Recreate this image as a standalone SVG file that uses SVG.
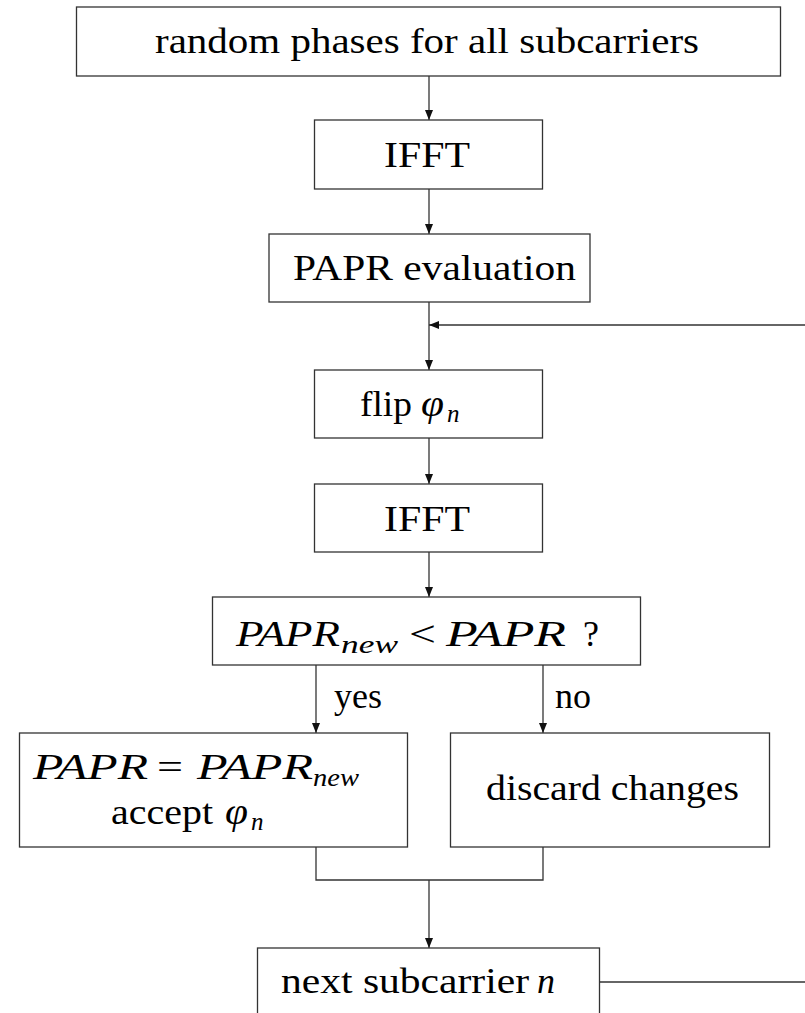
<svg xmlns="http://www.w3.org/2000/svg" width="805" height="1013" viewBox="0 0 805 1013">
  <defs>
    <marker id="arrow" markerUnits="userSpaceOnUse" markerWidth="10" markerHeight="8" refX="10" refY="4" orient="auto">
      <path d="M0,0 L10,4 L0,8 z" fill="#111"/>
    </marker>
    <style>
      .box { fill: #fff; stroke: #333; stroke-width: 1.3; }
      .wire { fill: none; stroke: #333; stroke-width: 1.3; }
      text { font-family: 'Liberation Serif', 'Times New Roman', 'DejaVu Serif', serif; fill: #000; }
      .rm { font-size: 36px; }
      .it { font-size: 36px; font-style: italic; }
      .phi { font-size: 37px; font-style: italic; }
      .sub { font-size: 25px; font-style: italic; }
    </style>
  </defs>
  <rect width="805" height="1013" fill="#fff"/>

  <!-- connectors -->
  <g id="connectors">
    <line class="wire" x1="429" y1="76" x2="429" y2="120" marker-end="url(#arrow)"/>
    <line class="wire" x1="429" y1="189" x2="429" y2="234" marker-end="url(#arrow)"/>
    <line class="wire" x1="429" y1="302" x2="429" y2="370" marker-end="url(#arrow)"/>
    <line class="wire" x1="805" y1="325" x2="429" y2="325" marker-end="url(#arrow)"/>
    <line class="wire" x1="429" y1="438" x2="429" y2="484" marker-end="url(#arrow)"/>
    <line class="wire" x1="429" y1="552" x2="429" y2="597" marker-end="url(#arrow)"/>
    <line class="wire" x1="316" y1="665" x2="316" y2="733" marker-end="url(#arrow)"/>
    <line class="wire" x1="543" y1="665" x2="543" y2="733" marker-end="url(#arrow)"/>
    <polyline class="wire" points="316,847 316,880 543,880 543,847"/>
    <line class="wire" x1="429" y1="880" x2="429" y2="948" marker-end="url(#arrow)"/>
    <line class="wire" x1="599" y1="982" x2="805" y2="982"/>
    <text class="rm" x="334" y="708">yes</text>
    <text class="rm" x="555" y="708">no</text>
  </g>

  <g id="init">
    <rect class="box" x="76.5" y="7" width="704" height="69"/>
    <text class="rm" x="155" y="53" textLength="544" lengthAdjust="spacingAndGlyphs">random phases for all subcarriers</text>
  </g>

  <g id="ifft1">
    <rect class="box" x="314.5" y="120" width="228" height="69"/>
    <text class="rm" x="384" y="167" textLength="86" lengthAdjust="spacingAndGlyphs">IFFT</text>
  </g>

  <g id="papr-eval">
    <rect class="box" x="269" y="234" width="321" height="68"/>
    <text class="rm" x="293" y="280" textLength="283" lengthAdjust="spacingAndGlyphs">PAPR evaluation</text>
  </g>

  <g id="flip">
    <rect class="box" x="314.5" y="370" width="228" height="68"/>
    <text class="rm" x="360" y="416" textLength="52" lengthAdjust="spacingAndGlyphs">flip</text>
    <text class="phi" x="421" y="416" textLength="23" lengthAdjust="spacingAndGlyphs">φ</text>
    <text class="sub" x="447" y="422">n</text>
  </g>

  <g id="ifft2">
    <rect class="box" x="314.5" y="484" width="228" height="68"/>
    <text class="rm" x="384" y="531" textLength="86" lengthAdjust="spacingAndGlyphs">IFFT</text>
  </g>

  <g id="compare">
    <rect class="box" x="212.5" y="597" width="428" height="68"/>
    <text class="it" x="236" y="646" textLength="104" lengthAdjust="spacingAndGlyphs">PAPR</text>
    <text class="sub" x="341" y="653" textLength="57" lengthAdjust="spacingAndGlyphs">new</text>
    <text class="rm" x="409" y="646" textLength="27" lengthAdjust="spacingAndGlyphs">&lt;</text>
    <text class="it" x="446" y="646" textLength="120" lengthAdjust="spacingAndGlyphs">PAPR</text>
    <text class="rm" x="583" y="646">?</text>
  </g>

  <g id="accept">
    <rect class="box" x="19.5" y="733" width="388" height="114"/>
    <text class="it" x="33" y="779" textLength="115" lengthAdjust="spacingAndGlyphs">PAPR</text>
    <text class="rm" x="157" y="779" textLength="26" lengthAdjust="spacingAndGlyphs">=</text>
    <text class="it" x="197" y="779" textLength="116" lengthAdjust="spacingAndGlyphs">PAPR</text>
    <text class="sub" x="313" y="786" textLength="46" lengthAdjust="spacingAndGlyphs">new</text>
    <text class="rm" x="111" y="824" textLength="102" lengthAdjust="spacingAndGlyphs">accept</text>
    <text class="phi" x="225" y="824" textLength="23" lengthAdjust="spacingAndGlyphs">φ</text>
    <text class="sub" x="251" y="830">n</text>
  </g>

  <g id="discard">
    <rect class="box" x="450.5" y="733" width="319" height="114"/>
    <text class="rm" x="486" y="800" textLength="253" lengthAdjust="spacingAndGlyphs">discard changes</text>
  </g>

  <g id="next">
    <rect class="box" x="257.5" y="948" width="342" height="80"/>
    <text class="rm" x="281" y="993" textLength="248" lengthAdjust="spacingAndGlyphs">next subcarrier</text>
    <text class="it" x="537" y="993">n</text>
  </g>
</svg>
